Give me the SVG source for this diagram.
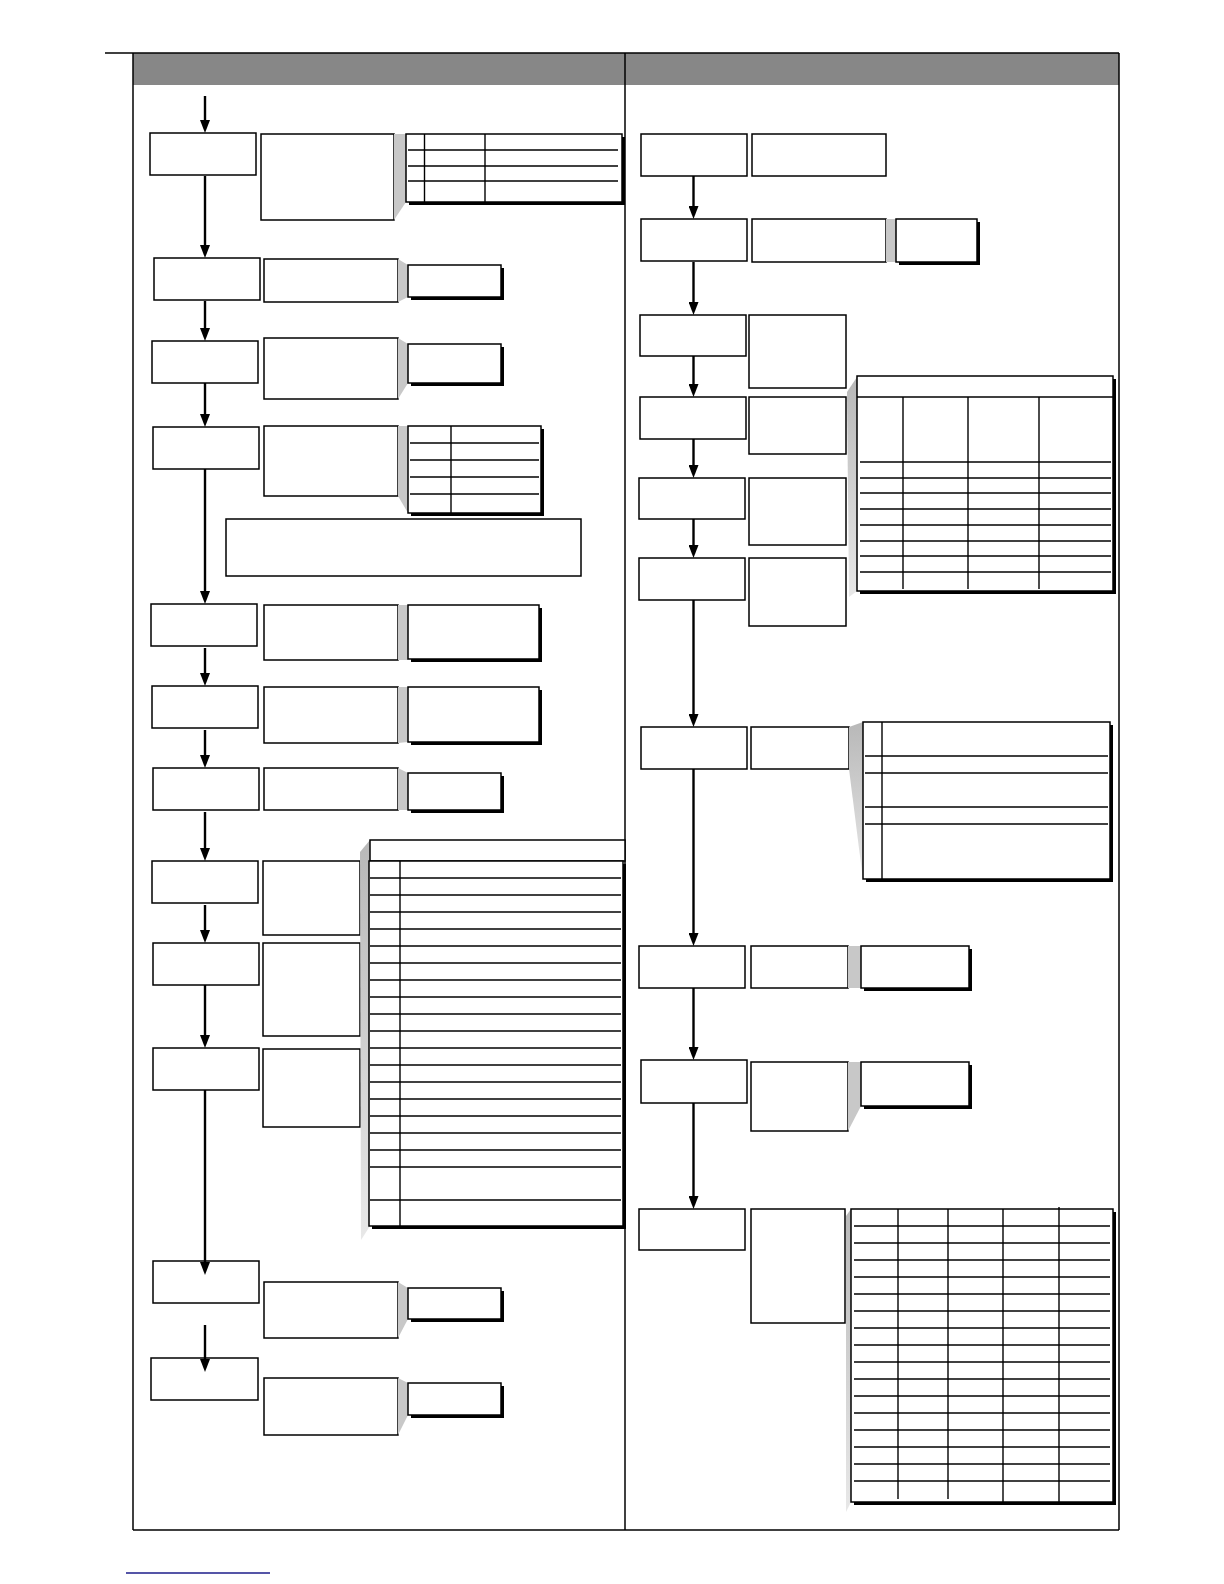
<svg xmlns="http://www.w3.org/2000/svg" width="1224" height="1584" viewBox="0 0 1224 1584">
<defs>
<marker id="ah" markerUnits="userSpaceOnUse" markerWidth="13" markerHeight="10" refX="6" refY="5" orient="auto"><path d="M0,0 L13,5 L0,10 z" fill="#000"/></marker>
<linearGradient id="fade" x1="0" y1="0" x2="0" y2="1"><stop offset="0" stop-color="#b8b8b8"/><stop offset="1" stop-color="#e8e8e8"/></linearGradient>
</defs>
<style>
.box{fill:#fff;stroke:#000;stroke-width:1.5}
.sh{fill:#000}
.wedge{fill:#c8c8c8}
.fwedge{fill:url(#fade)}
.ln{stroke:#000;stroke-width:1.4;fill:none}
.arr{stroke:#000;stroke-width:2.4;fill:none;marker-end:url(#ah)}
.frame{stroke:#000;stroke-width:1.5;fill:none}
</style>
<rect width="1224" height="1584" fill="#fff"/>
<g id="frame">
<rect x="133" y="53" width="986" height="32" fill="#878787"/>
<g class="frame">
<line x1="105" y1="53" x2="1119" y2="53"/>
<line x1="133" y1="53" x2="133" y2="1530"/>
<line x1="625" y1="53" x2="625" y2="1530"/>
<line x1="1119" y1="53" x2="1119" y2="1530"/>
<line x1="133" y1="1530" x2="1119" y2="1530"/>
</g>
<line x1="126" y1="1573" x2="270" y2="1573" stroke="#1c1c8a" stroke-width="1.5"/>
</g>

<!-- LEFT COLUMN -->
<g id="A1"><rect class="box" x="150" y="133" width="106" height="42"/></g>
<g id="B1"><rect class="box" x="261" y="134" width="133" height="86"/></g>
<g id="T1">
<polygon class="wedge" points="394,134 406,134 406,202 394,220"/>
<rect class="sh" x="409" y="137" width="216" height="68"/>
<rect class="box" x="406" y="134" width="216" height="68"/>
<g class="ln"><line x1="424.5" y1="134" x2="424.5" y2="202"/><line x1="485" y1="134" x2="485" y2="202"/>
<line x1="408" y1="150" x2="618" y2="150"/><line x1="408" y1="166" x2="618" y2="166"/><line x1="408" y1="181" x2="618" y2="181"/></g>
</g>

<g id="A2"><rect class="box" x="154" y="258" width="106" height="42"/></g>
<g id="B2"><rect class="box" x="264" y="259" width="134" height="43"/></g>
<g id="C2"><polygon class="wedge" points="398,259 408,265 408,297 398,302"/><rect class="sh" x="411" y="268" width="93" height="32"/><rect class="box" x="408" y="265" width="93" height="32"/></g>

<g id="A3"><rect class="box" x="152" y="341" width="106" height="42"/></g>
<g id="B3"><rect class="box" x="264" y="338" width="134" height="61"/></g>
<g id="C3"><polygon class="wedge" points="398,338 408,344 408,383 398,399"/><rect class="sh" x="411" y="347" width="93" height="39"/><rect class="box" x="408" y="344" width="93" height="39"/></g>

<g id="A4"><rect class="box" x="153" y="427" width="106" height="42"/></g>
<g id="B4"><rect class="box" x="264" y="426" width="134" height="70"/></g>
<g id="T4">
<polygon class="wedge" points="398,426 408,426 408,513 398,496"/>
<rect class="sh" x="411" y="429" width="133" height="87"/>
<rect class="box" x="408" y="426" width="133" height="87"/>
<g class="ln"><line x1="451" y1="426" x2="451" y2="513"/>
<line x1="410" y1="443" x2="539" y2="443"/><line x1="410" y1="460" x2="539" y2="460"/><line x1="410" y1="477" x2="539" y2="477"/><line x1="410" y1="494" x2="539" y2="494"/></g>
</g>
<g id="D"><rect class="box" x="226" y="519" width="355" height="57"/></g>

<g id="A5"><rect class="box" x="151" y="604" width="106" height="42"/></g>
<g id="B5"><rect class="box" x="264" y="605" width="134" height="55"/></g>
<g id="C5"><rect class="wedge" x="398" y="605" width="10" height="55"/><rect class="sh" x="411" y="608" width="131" height="54"/><rect class="box" x="408" y="605" width="131" height="54"/></g>

<g id="A6"><rect class="box" x="152" y="686" width="106" height="42"/></g>
<g id="B6"><rect class="box" x="264" y="687" width="134" height="56"/></g>
<g id="C6"><polygon class="wedge" points="398,687 408,687 408,742 398,743"/><rect class="sh" x="411" y="690" width="131" height="55"/><rect class="box" x="408" y="687" width="131" height="55"/></g>

<g id="A7"><rect class="box" x="153" y="768" width="106" height="42"/></g>
<g id="B7"><rect class="box" x="264" y="768" width="134" height="42"/></g>
<g id="C7"><polygon class="wedge" points="398,768 408,773 408,810 398,810"/><rect class="sh" x="411" y="776" width="93" height="37"/><rect class="box" x="408" y="773" width="93" height="37"/></g>

<g id="A8"><rect class="box" x="152" y="861" width="106" height="42"/></g>
<g id="B8"><rect class="box" x="263" y="861" width="97" height="74"/></g>
<g id="A9"><rect class="box" x="153" y="943" width="106" height="42"/></g>
<g id="B9"><rect class="box" x="263" y="943" width="97" height="93"/></g>
<g id="A10"><rect class="box" x="153" y="1048" width="106" height="42"/></g>
<g id="B10"><rect class="box" x="263" y="1049" width="97" height="78"/></g>
<g id="T8">
<polygon class="fwedge" points="360,852 370,840 370,1226 361,1240"/>
<rect class="box" x="370" y="840" width="255" height="21"/>
<rect class="sh" x="372" y="864" width="254" height="365"/>
<rect class="box" x="369" y="861" width="254" height="365"/>
<g class="ln">
<line x1="400" y1="861" x2="400" y2="1226"/>
<line x1="370" y1="878" x2="621" y2="878"/><line x1="370" y1="895" x2="621" y2="895"/><line x1="370" y1="912" x2="621" y2="912"/><line x1="370" y1="929" x2="621" y2="929"/><line x1="370" y1="946" x2="621" y2="946"/><line x1="370" y1="963" x2="621" y2="963"/><line x1="370" y1="980" x2="621" y2="980"/><line x1="370" y1="997" x2="621" y2="997"/><line x1="370" y1="1014" x2="621" y2="1014"/><line x1="370" y1="1031" x2="621" y2="1031"/><line x1="370" y1="1048" x2="621" y2="1048"/><line x1="370" y1="1065" x2="621" y2="1065"/><line x1="370" y1="1082" x2="621" y2="1082"/><line x1="370" y1="1099" x2="621" y2="1099"/><line x1="370" y1="1116" x2="621" y2="1116"/><line x1="370" y1="1133" x2="621" y2="1133"/><line x1="370" y1="1150" x2="621" y2="1150"/><line x1="370" y1="1167" x2="621" y2="1167"/><line x1="370" y1="1200" x2="621" y2="1200"/>
</g>
</g>

<g id="A11"><rect class="box" x="153" y="1261" width="106" height="42"/></g>
<g id="B11"><rect class="box" x="264" y="1282" width="134" height="56"/></g>
<g id="C11"><polygon class="wedge" points="398,1282 408,1288 408,1319 398,1338"/><rect class="sh" x="411" y="1291" width="93" height="31"/><rect class="box" x="408" y="1288" width="93" height="31"/></g>
<g id="A12"><rect class="box" x="151" y="1358" width="107" height="42"/></g>
<g id="B12"><rect class="box" x="264" y="1378" width="134" height="57"/></g>
<g id="C12"><polygon class="wedge" points="398,1378 408,1383 408,1415 398,1435"/><rect class="sh" x="411" y="1386" width="93" height="32"/><rect class="box" x="408" y="1383" width="93" height="32"/></g>

<!-- RIGHT COLUMN -->
<g id="RA1"><rect class="box" x="641" y="134" width="106" height="42"/></g>
<g id="RB1"><rect class="box" x="752" y="134" width="134" height="42"/></g>
<g id="RA2"><rect class="box" x="641" y="219" width="106" height="42"/></g>
<g id="RB2"><rect class="box" x="752" y="219" width="134" height="43"/></g>
<g id="RC2"><rect class="wedge" x="886" y="219" width="10" height="43"/><rect class="sh" x="899" y="222" width="81" height="43"/><rect class="box" x="896" y="219" width="81" height="43"/></g>
<g id="RA3"><rect class="box" x="640" y="315" width="106" height="41"/></g>
<g id="RB3"><rect class="box" x="749" y="315" width="97" height="73"/></g>
<g id="RA4"><rect class="box" x="640" y="397" width="106" height="42"/></g>
<g id="RB4"><rect class="box" x="749" y="397" width="97" height="57"/></g>
<g id="RA5"><rect class="box" x="639" y="478" width="106" height="41"/></g>
<g id="RB5"><rect class="box" x="749" y="478" width="97" height="67"/></g>
<g id="RA6"><rect class="box" x="639" y="558" width="106" height="42"/></g>
<g id="RB6"><rect class="box" x="749" y="558" width="97" height="68"/></g>
<g id="RT6">
<polygon class="fwedge" points="847,392 857,377 857,591 849,597"/>
<rect class="sh" x="860" y="379" width="256" height="215"/>
<rect class="box" x="857" y="376" width="256" height="215"/>
<g class="ln">
<line x1="857" y1="397" x2="1113" y2="397"/>
<line x1="903" y1="397" x2="903" y2="589"/><line x1="968" y1="397" x2="968" y2="589"/><line x1="1039" y1="397" x2="1039" y2="589"/>
<line x1="860" y1="462" x2="1111" y2="462"/><line x1="860" y1="478" x2="1111" y2="478"/><line x1="860" y1="493" x2="1111" y2="493"/><line x1="860" y1="509" x2="1111" y2="509"/><line x1="860" y1="525" x2="1111" y2="525"/><line x1="860" y1="541" x2="1111" y2="541"/><line x1="860" y1="556" x2="1111" y2="556"/><line x1="860" y1="572" x2="1111" y2="572"/>
</g>
</g>

<g id="RA7"><rect class="box" x="641" y="727" width="106" height="42"/></g>
<g id="RB7"><rect class="box" x="751" y="727" width="98" height="42"/></g>
<g id="RT7">
<polygon class="fwedge" points="849,727 863,722 863,880 849,769"/>
<rect class="sh" x="866" y="725" width="247" height="157"/>
<rect class="box" x="863" y="722" width="247" height="157"/>
<g class="ln">
<line x1="882" y1="722" x2="882" y2="879"/>
<line x1="865" y1="756" x2="1108" y2="756"/><line x1="865" y1="773" x2="1108" y2="773"/><line x1="865" y1="807" x2="1108" y2="807"/><line x1="865" y1="824" x2="1108" y2="824"/>
</g>
</g>

<g id="RA8"><rect class="box" x="639" y="946" width="106" height="42"/></g>
<g id="RB8"><rect class="box" x="751" y="946" width="97" height="42"/></g>
<g id="RC8"><rect class="wedge" x="848" y="946" width="13" height="42"/><rect class="sh" x="864" y="949" width="108" height="42"/><rect class="box" x="861" y="946" width="108" height="42"/></g>
<g id="RA9"><rect class="box" x="641" y="1060" width="106" height="43"/></g>
<g id="RB9"><rect class="box" x="751" y="1062" width="97" height="69"/></g>
<g id="RC9"><polygon class="wedge" points="848,1062 861,1062 861,1106 848,1131"/><rect class="sh" x="864" y="1065" width="108" height="44"/><rect class="box" x="861" y="1062" width="108" height="44"/></g>
<g id="RA10"><rect class="box" x="639" y="1209" width="106" height="41"/></g>
<g id="RB10"><rect class="box" x="751" y="1209" width="94" height="114"/></g>
<g id="RT10">
<polygon class="fwedge" points="846,1216 851,1209 851,1502 846,1512"/>
<rect class="sh" x="854" y="1212" width="262" height="293"/>
<rect class="box" x="851" y="1209" width="262" height="293"/>
<g class="ln">
<line x1="898" y1="1209" x2="898" y2="1499"/><line x1="948" y1="1209" x2="948" y2="1499"/><line x1="1003" y1="1209" x2="1003" y2="1502"/><line x1="1059" y1="1207" x2="1059" y2="1502"/>
<line x1="854" y1="1226" x2="1110" y2="1226"/><line x1="854" y1="1243" x2="1110" y2="1243"/><line x1="854" y1="1260" x2="1110" y2="1260"/><line x1="854" y1="1277" x2="1110" y2="1277"/><line x1="854" y1="1294" x2="1110" y2="1294"/><line x1="854" y1="1311" x2="1110" y2="1311"/><line x1="854" y1="1328" x2="1110" y2="1328"/><line x1="854" y1="1345" x2="1110" y2="1345"/><line x1="854" y1="1362" x2="1110" y2="1362"/><line x1="854" y1="1379" x2="1110" y2="1379"/><line x1="854" y1="1396" x2="1110" y2="1396"/><line x1="854" y1="1413" x2="1110" y2="1413"/><line x1="854" y1="1430" x2="1110" y2="1430"/><line x1="854" y1="1447" x2="1110" y2="1447"/><line x1="854" y1="1464" x2="1110" y2="1464"/><line x1="854" y1="1481" x2="1110" y2="1481"/>
</g>
</g>

<g id="connectors">
<line class="arr" x1="205" y1="96" x2="205" y2="126"/>
<line class="arr" x1="205" y1="176" x2="205" y2="251"/>
<line class="arr" x1="205" y1="301" x2="205" y2="334"/>
<line class="arr" x1="205" y1="383" x2="205" y2="420"/>
<line class="arr" x1="205" y1="469" x2="205" y2="597"/>
<line class="arr" x1="205" y1="648" x2="205" y2="679"/>
<line class="arr" x1="205" y1="730" x2="205" y2="761"/>
<line class="arr" x1="205" y1="812" x2="205" y2="854"/>
<line class="arr" x1="205" y1="905" x2="205" y2="936"/>
<line class="arr" x1="205" y1="985" x2="205" y2="1041"/>
<line class="arr" x1="205" y1="1090" x2="205" y2="1268"/>
<line class="arr" x1="205" y1="1325" x2="205" y2="1365"/>
<line class="arr" x1="693.5" y1="176" x2="693.5" y2="212"/>
<line class="arr" x1="693.5" y1="262" x2="693.5" y2="308"/>
<line class="arr" x1="693.5" y1="356" x2="693.5" y2="390"/>
<line class="arr" x1="693.5" y1="439" x2="693.5" y2="471"/>
<line class="arr" x1="693.5" y1="519" x2="693.5" y2="551"/>
<line class="arr" x1="693.5" y1="600" x2="693.5" y2="720"/>
<line class="arr" x1="693.5" y1="769" x2="693.5" y2="939"/>
<line class="arr" x1="693.5" y1="988" x2="693.5" y2="1053"/>
<line class="arr" x1="693.5" y1="1103" x2="693.5" y2="1202"/>
</g>
</svg>
